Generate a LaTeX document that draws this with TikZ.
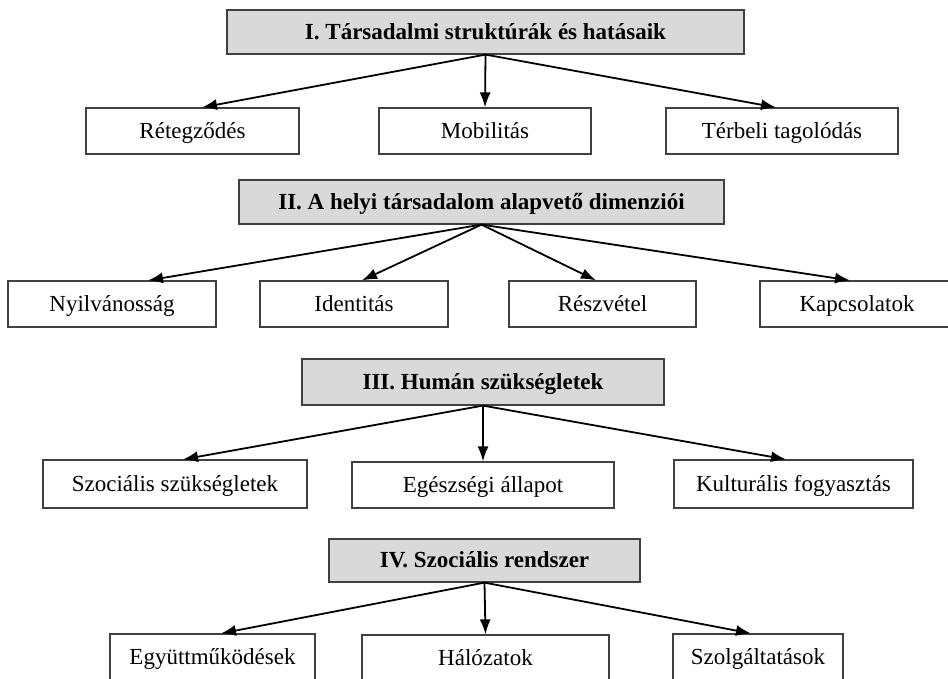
\documentclass[tikz,border=0pt]{standalone}
\usepackage{fontspec}
\setmainfont{Liberation Serif}
\usetikzlibrary{arrows.meta}
\begin{document}
\begin{tikzpicture}[x=1pt, y=-1pt,
  head/.style={draw=black!75, line width=1.2pt, fill=black!15, inner sep=0pt,
    text height=17pt, text depth=3pt, font=\fontsize{23}{27}\selectfont\bfseries},
  leaf/.style={draw=black!75, line width=1.2pt, fill=white, inner sep=0pt,
    text height=17pt, text depth=3pt, font=\fontsize{23}{27}\selectfont},
  link/.style={line width=1.8pt, -{Latex[length=15pt,width=11pt]}}]
\useasboundingbox (0,0) rectangle (948,678);
\clip (0,0) rectangle (948,678);

% I.
\node [head, minimum width=517pt, minimum height=44pt] (h1) at (485.5,32) {I. Társadalmi struktúrák és hatásaik};
\node [leaf, minimum width=213pt, minimum height=46pt] (ret) at (192.5,131) {Rétegződés};
\node [leaf, minimum width=212pt, minimum height=46pt] (mob) at (485,131) {Mobilitás};
\node [leaf, minimum width=232pt, minimum height=46pt] (ter) at (782,131) {Térbeli tagolódás};
\draw [link] (h1.south) -- ([xshift=9.5pt]ret.north);
\draw [link] (h1.south) -- (mob.north);
\draw [link] (h1.south) -- ([xshift=-6pt]ter.north);

% II.
\node [head, minimum width=485pt, minimum height=44pt] (h2) at (481.5,202) {II. A helyi társadalom alapvető dimenziói};
\node [leaf, minimum width=208pt, minimum height=46pt] (nyil) at (112,304) {Nyilvánosság};
\node [leaf, minimum width=188pt, minimum height=46pt] (ident) at (354,304) {Identitás};
\node [leaf, minimum width=187pt, minimum height=46pt] (reszv) at (602.5,304) {Részvétel};
\node [leaf, minimum width=194pt, minimum height=46pt] (kapcs) at (857,304) {Kapcsolatok};
\draw [link] (h2.south) -- ([xshift=36pt]nyil.north);
\draw [link] (h2.south) -- ([xshift=8pt]ident.north);
\draw [link] (h2.south) -- ([xshift=-6.5pt]reszv.north);
\draw [link] (h2.south) -- ([xshift=-7pt]kapcs.north);

% III.
\node [head, minimum width=362pt, minimum height=46pt] (h3) at (483,382) {III. Humán szükségletek};
\node [leaf, minimum width=264pt, minimum height=48pt] (szoc) at (175,484) {Szociális szükségletek};
\node [leaf, minimum width=262pt, minimum height=46pt] (egesz) at (483,485) {Egészségi állapot};
\node [leaf, minimum width=239pt, minimum height=48pt] (kult) at (793.5,484) {Kulturális fogyasztás};
\draw [link] (h3.south) -- ([xshift=8pt]szoc.north);
\draw [link] (h3.south) -- (egesz.north);
\draw [link] (h3.south) -- ([xshift=-7.5pt]kult.north);

% IV.
\node [head, minimum width=311pt, minimum height=43pt] (h4) at (484.5,560.5) {IV. Szociális rendszer};
\node [leaf, minimum width=205pt, minimum height=46pt] (egyutt) at (212.5,657) {Együttműködések};
\node [leaf, minimum width=247pt, minimum height=46pt] (halo) at (485.5,658) {Hálózatok};
\node [leaf, minimum width=170pt, minimum height=46pt] (szolg) at (758,657) {Szolgáltatások};
\draw [link] (h4.south) -- ([xshift=8.5pt]egyutt.north);
\draw [link] (h4.south) -- (halo.north);
\draw [link] (h4.south) -- ([xshift=-7pt]szolg.north);
\end{tikzpicture}
\end{document}
